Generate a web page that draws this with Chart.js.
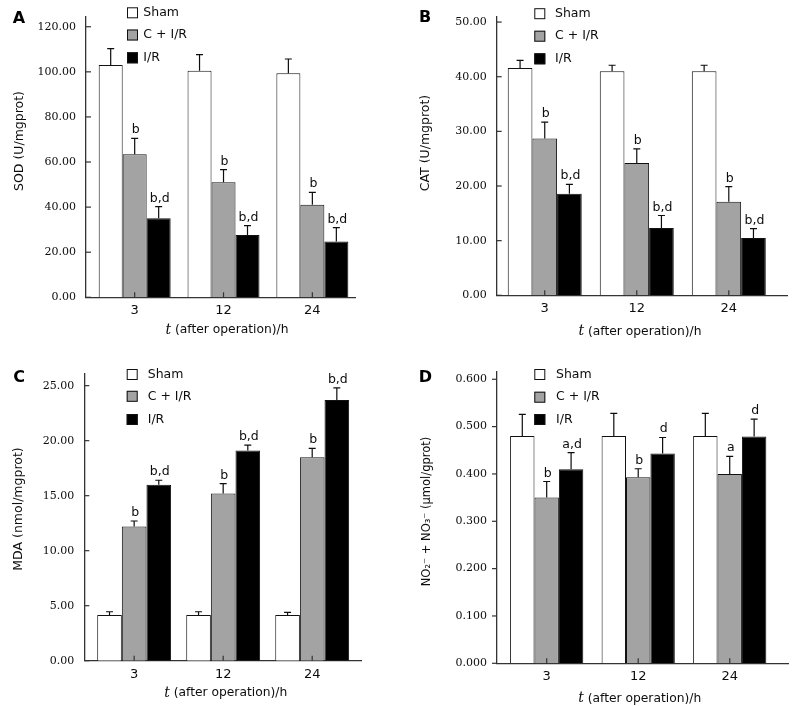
<!DOCTYPE html>
<html>
<head>
<meta charset="utf-8">
<script src="https://cdn.jsdelivr.net/npm/chart.js@4.4.1/dist/chart.umd.min.js"></script>
<style>
  html, body { margin: 0; padding: 0; background: #fff; }
  #wrap { position: relative; width: 800px; height: 706px; background: #fff; overflow: hidden; }
  .pane { position: absolute; width: 400px; height: 353px; }
</style>
</head>
<body>
<div id="wrap">
  <div class="pane" style="left:0;top:0"><canvas id="cA" width="400" height="353"></canvas></div>
  <div class="pane" style="left:400px;top:0"><canvas id="cB" width="400" height="353"></canvas></div>
  <div class="pane" style="left:0;top:353px"><canvas id="cC" width="400" height="353"></canvas></div>
  <div class="pane" style="left:400px;top:353px"><canvas id="cD" width="400" height="353"></canvas></div>
</div>
<script>
// ---------- data ----------
const categories = ['3', '12', '24'];
const seriesNames = ['Sham', 'C + I/R', 'I/R'];
const seriesColors = ['#ffffff', '#a3a3a3', '#000000'];

// A: SOD (U/mgprot)
const sodSham = [103.0, 100.5, 99.4];
const sodShamErr = [7.3, 7.1, 6.3];
const sodCIR = [63.4, 51.0, 41.0];
const sodCIRErr = [7.1, 5.6, 5.5];
const sodIR = [35.1, 27.6, 24.7];
const sodIRErr = [5.1, 4.2, 6.2];
const sodCIRSig = ['b', 'b', 'b'];
const sodIRSig = ['b,d', 'b,d', 'b,d'];
const sodTicks = [0, 20, 40, 60, 80, 100, 120];

// B: CAT (U/mgprot)
const catSham = [41.6, 41.0, 41.0];
const catShamErr = [1.4, 1.1, 1.1];
const catCIR = [28.7, 24.2, 17.1];
const catCIRErr = [3.0, 2.6, 2.8];
const catIR = [18.6, 12.3, 10.5];
const catIRErr = [1.7, 2.3, 1.7];
const catCIRSig = ['b', 'b', 'b'];
const catIRSig = ['b,d', 'b,d', 'b,d'];
const catTicks = [0, 10, 20, 30, 40, 50];

// C: MDA (nmol/mgprot)
const mdaSham = [4.15, 4.15, 4.15];
const mdaShamErr = [0.3, 0.3, 0.25];
const mdaCIR = [12.2, 15.2, 18.5];
const mdaCIRErr = [0.5, 0.9, 0.8];
const mdaIR = [16.0, 19.1, 23.7];
const mdaIRErr = [0.4, 0.5, 1.1];
const mdaCIRSig = ['b', 'b', 'b'];
const mdaIRSig = ['b,d', 'b,d', 'b,d'];
const mdaTicks = [0, 5, 10, 15, 20, 25];

// D: NO2- + NO3- (umol/gprot)
const noSham = [0.480, 0.480, 0.480];
const noShamErr = [0.046, 0.048, 0.048];
const noCIR = [0.350, 0.393, 0.400];
const noCIRErr = [0.034, 0.018, 0.037];
const noIR = [0.410, 0.443, 0.479];
const noIRErr = [0.035, 0.034, 0.037];
const noCIRSig = ['b', 'b', 'a'];
const noIRSig = ['a,d', 'd', 'd'];
const noTicks = [0, 0.1, 0.2, 0.3, 0.4, 0.5, 0.6];

const noSig = ['', '', ''];

// ---------- panel setup (built from the arrays above) ----------
const panels = [
  { letter: 'A', canvas: 'cA', ox: 0, oy: 0,
    area: { l: 86, r: 355, t: 10, b: 297.3 }, ymax: 124.5, ticks: sodTicks, dec: 2,
    xr: [-0.548, 2.48], cat: 0.81,
    ytitle: 'SOD (U/mgprot)', ytSize: 12.5, ytPos: [20, 141], xtPos: [227, 330], letterPos: [19, 19],
    legend: { bx: 127, tx: 143.3, ys: [12.8, 35, 57.8] }, inward: true,
    series: [[sodSham, sodShamErr, noSig], [sodCIR, sodCIRErr, sodCIRSig], [sodIR, sodIRErr, sodIRSig]] },
  { letter: 'B', canvas: 'cB', ox: 400, oy: 0,
    area: { l: 496.7, r: 787.7, t: 13.3, b: 295.3 }, ymax: 51.0, ticks: catTicks, dec: 2,
    xr: [-0.522, 2.64], cat: 0.804,
    ytitle: 'CAT (U/mgprot)', ytSize: 12.5, ytPos: [426, 143], xtPos: [640, 331.7], letterPos: [425, 18],
    legend: { bx: 534.3, tx: 555, ys: [13.7, 36.2, 58.8] }, inward: true,
    series: [[catSham, catShamErr, noSig], [catCIR, catCIRErr, catCIRSig], [catIR, catIRErr, catIRSig]] },
  { letter: 'C', canvas: 'cC', ox: 0, oy: 353,
    area: { l: 84.3, r: 361.7, t: 374, b: 660.7 }, ymax: 26.06, ticks: mdaTicks, dec: 2,
    xr: [-0.56, 2.556], cat: 0.83,
    ytitle: 'MDA (nmol/mgprot)', ytSize: 12.5, ytPos: [19, 509], xtPos: [225.7, 693.3], letterPos: [19, 377.5],
    legend: { bx: 126.7, tx: 147.7, ys: [374.5, 396.3, 419.5] }, inward: true,
    series: [[mdaSham, mdaShamErr, noSig], [mdaCIR, mdaCIRErr, mdaCIRSig], [mdaIR, mdaIRErr, mdaIRSig]] },
  { letter: 'D', canvas: 'cD', ox: 400, oy: 353,
    area: { l: 497, r: 788.3, t: 371.7, b: 663.3 }, ymax: 0.616, ticks: noTicks, dec: 3,
    xr: [-0.543, 2.64], cat: 0.8,
    ytitle: 'NO\u2082\u207B + NO\u2083\u207B (\u03BCmol/gprot)', ytSize: 11.5, ytPos: [427, 511.5], xtPos: [639.7, 698.5], letterPos: [425.5, 377.5],
    legend: { bx: 534.3, tx: 556, ys: [374.5, 397.2, 419.5] }, inward: false,
    series: [[noSham, noShamErr, noSig], [noCIR, noCIRErr, noCIRSig], [noIR, noIRErr, noIRSig]] }
];

const PANE_H = 353, PANE_W = 400;
const INK = '#0d0d0d';

const decor = {
  id: 'decor',
  afterDatasetsDraw(chart) {
    const p = chart.options.plugins.decor.panel;
    const ctx = chart.ctx;
    const ys = chart.scales.y, xs = chart.scales.x;
    const area = chart.chartArea;
    ctx.save();
    // error bars + significance letters
    chart.data.datasets.forEach((ds, di) => {
      const meta = chart.getDatasetMeta(di);
      meta.data.forEach((el, i) => {
        const v = ds.data[i].y;
        const top = ys.getPixelForValue(v + ds.err[i]);
        ctx.strokeStyle = INK;
        ctx.lineWidth = 1.2;
        ctx.beginPath();
        ctx.moveTo(el.x, el.y);
        ctx.lineTo(el.x, top);
        ctx.moveTo(el.x - 3.5, top);
        ctx.lineTo(el.x + 3.5, top);
        ctx.stroke();
        const s = ds.sig[i];
        if (s) {
          ctx.fillStyle = INK;
          ctx.font = '12.5px "DejaVu Sans"';
          ctx.textAlign = 'center';
          ctx.textBaseline = 'alphabetic';
          ctx.fillText(s, el.x + 1, top - 5);
        }
      });
    });
    // x tick marks (inward)
    ctx.strokeStyle = '#333';
    ctx.lineWidth = 1.2;
    categories.forEach((c, i) => {
      const x = xs.getPixelForValue(i);
      ctx.beginPath();
      ctx.moveTo(x, area.bottom);
      ctx.lineTo(x, area.bottom - 5);
      ctx.stroke();
    });
    ctx.restore();
  },
  afterDraw(chart) {
    const p = chart.options.plugins.decor.panel;
    const ctx = chart.ctx;
    const ys = chart.scales.y;
    const area = chart.chartArea;
    ctx.save();
    // y tick marks
    ctx.strokeStyle = '#333';
    ctx.lineWidth = 1.2;
    p.ticks.forEach(v => {
      const y = ys.getPixelForValue(v);
      ctx.beginPath();
      if (p.inward) { ctx.moveTo(area.left, y); ctx.lineTo(area.left + 5, y); }
      else { ctx.moveTo(area.left - 5, y); ctx.lineTo(area.left, y); }
      ctx.stroke();
    });
    // legend
    seriesNames.forEach((name, k) => {
      const cy = p.legend.ys[k] - p.oy;
      const bx = p.legend.bx - p.ox;
      ctx.fillStyle = seriesColors[k];
      ctx.fillRect(bx, cy - 5.5, 11, 11);
      ctx.strokeStyle = '#111';
      ctx.lineWidth = 1;
      ctx.strokeRect(bx + 0.5, cy - 5, 10, 10);
      ctx.fillStyle = INK;
      ctx.font = '12.5px "DejaVu Sans"';
      ctx.textAlign = 'left';
      ctx.textBaseline = 'middle';
      ctx.fillText(name, p.legend.tx - p.ox, cy);
    });
    // panel letter
    ctx.fillStyle = '#000';
    ctx.font = 'bold 16px "DejaVu Sans"';
    ctx.textAlign = 'center';
    ctx.textBaseline = 'middle';
    ctx.fillText(p.letter, p.letterPos[0] - p.ox, p.letterPos[1] - p.oy);
    // y title
    ctx.save();
    ctx.translate(p.ytPos[0] - p.ox, p.ytPos[1] - p.oy);
    ctx.rotate(-Math.PI / 2);
    ctx.font = p.ytSize + 'px "DejaVu Sans"';
    ctx.fillStyle = INK;
    ctx.textAlign = 'center';
    ctx.textBaseline = 'middle';
    ctx.fillText(p.ytitle, 0, 0);
    ctx.restore();
    // x title: italic t + rest
    const f1 = 'italic 14px "DejaVu Serif"';
    const f2 = '12.3px "DejaVu Sans"';
    const t1 = 't', t2 = ' (after operation)/h';
    ctx.font = f1; const w1 = ctx.measureText(t1).width;
    ctx.font = f2; const w2 = ctx.measureText(t2).width;
    const x0 = p.xtPos[0] - p.ox - (w1 + w2) / 2;
    const yb = p.xtPos[1] - p.oy;
    ctx.textAlign = 'left';
    ctx.textBaseline = 'middle';
    ctx.fillStyle = INK;
    ctx.font = f1; ctx.fillText(t1, x0, yb);
    ctx.font = f2; ctx.fillText(t2, x0 + w1, yb);
    ctx.restore();
  }
};

panels.forEach(p => {
  const cvs = document.getElementById(p.canvas);
  new Chart(cvs, {
    type: 'bar',
    data: {
      datasets: p.series.map((s, k) => ({
        label: seriesNames[k],
        data: categories.map((c, i) => ({ x: i, y: s[0][i] })),
        err: s[1],
        sig: s[2],
        backgroundColor: seriesColors[k],
        borderColor: '#111',
        borderWidth: 1,
        borderSkipped: 'bottom',
        categoryPercentage: p.cat,
        barPercentage: 1
      }))
    },
    options: {
      responsive: false,
      animation: false,
      devicePixelRatio: 1,
      layout: {
        autoPadding: false,
        padding: { left: 0, top: p.area.t - p.oy, right: (p.ox + PANE_W) - p.area.r, bottom: 0 }
      },
      plugins: {
        legend: { display: false },
        tooltip: { enabled: false },
        decor: { panel: p }
      },
      scales: {
        x: {
          type: 'linear',
          min: p.xr[0], max: p.xr[1],
          offset: false,
          grid: { display: false, drawTicks: false },
          border: { display: true, color: '#333', width: 1.3 },
          afterBuildTicks: s => { s.ticks = categories.map((c, i) => ({ value: i })); },
          ticks: {
            callback: v => categories[v],
            font: { family: 'DejaVu Sans', size: 13 },
            color: INK,
            padding: 6,
            maxRotation: 0,
            autoSkip: false
          },
          afterFit: s => { s.height = (p.oy + PANE_H) - p.area.b; }
        },
        y: {
          min: 0, max: p.ymax,
          grid: { display: false, drawTicks: false },
          border: { display: true, color: '#333', width: 1.3 },
          afterBuildTicks: s => { s.ticks = p.ticks.map(v => ({ value: v })); },
          ticks: {
            callback: v => Number(v).toFixed(p.dec),
            font: { family: 'DejaVu Serif', size: 11 },
            color: INK,
            padding: 10
          },
          afterFit: s => { s.width = p.area.l - p.ox; }
        }
      }
    },
    plugins: [decor]
  });
});
</script>
</body>
</html>
